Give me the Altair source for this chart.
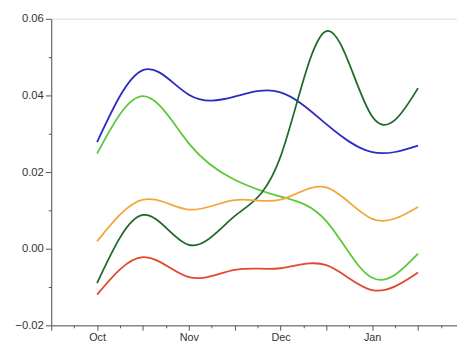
import altair as alt
import pandas as pd

# half-month positions: 0=Oct, 2=Nov, 4=Dec, 6=Jan
positions = [0, 1, 2, 3, 4, 5, 6, 7]

blue = [0.0278, 0.0466, 0.0402, 0.0397, 0.0408, 0.0325, 0.0252, 0.0269]
light_green = [0.0248, 0.0398, 0.0275, 0.0180, 0.0136, 0.0072, -0.0076, -0.0013]
dark_green = [-0.0090, 0.0088, 0.0010, 0.0085, 0.0240, 0.0568, 0.0345, 0.0419]
orange = [0.0019, 0.0128, 0.0102, 0.0127, 0.0128, 0.0160, 0.0078, 0.0109]
red = [-0.0120, -0.0022, -0.0074, -0.0055, -0.0051, -0.0043, -0.0108, -0.0062]

series_names = ["blue", "light_green", "dark_green", "orange", "red"]
series_values = [blue, light_green, dark_green, orange, red]
series_colors = ["#2b2bbf", "#5cc83a", "#1e6a26", "#f0a83a", "#e0492e"]

month_labels = ["Oct", "Nov", "Dec", "Jan"]
month_positions = [0, 2, 4, 6]
x_tick_values = [i * 0.5 for i in range(-2, 16)]
y_tick_values = [round(-0.02 + 0.01 * i, 2) for i in range(9)]

rows = []
for name, vals in zip(series_names, series_values):
    for p, v in zip(positions, vals):
        rows.append({"t": p, "v": v, "s": name})
df = pd.DataFrame(rows)

label_expr = ""
for p, m in zip(month_positions, month_labels):
    label_expr += f"datum.value == {p} ? '{m}' : "
label_expr += "''"

x_axis = alt.Axis(
    values=x_tick_values,
    labelExpr=label_expr,
    title=None,
    grid=False,
    domainColor="#555555",
    tickColor="#555555",
    tickSize={"condition": {"test": "datum.value % 1 == 0", "value": 5}, "value": 2.5},
    labelFont="Liberation Sans",
    labelFontSize=11,
    labelColor="#333333",
    labelPadding=1,
    labelFlush=False,
    labelOverlap=False,
)

y_axis = alt.Axis(
    values=y_tick_values,
    labelExpr="round(datum.value * 100) % 2 == 0 ? format(datum.value, '.2f') : ''",
    title=None,
    grid=False,
    domainColor="#555555",
    tickColor="#555555",
    tickSize={"condition": {"test": "round(datum.value * 100) % 2 == 0", "value": 6}, "value": 3},
    labelFont="Liberation Sans",
    labelFontSize=11.5,
    labelColor="#333333",
    labelPadding=2,
    labelFlush=False,
    labelOverlap=False,
)

chart = (
    alt.Chart(df)
    .mark_line(interpolate="natural", strokeWidth=1.8)
    .encode(
        x=alt.X("t:Q", scale=alt.Scale(domain=[-1, 7.85], nice=False, zero=False), axis=x_axis),
        y=alt.Y("v:Q", scale=alt.Scale(domain=[-0.02, 0.06], nice=False, zero=False), axis=y_axis),
        color=alt.Color("s:N", scale=alt.Scale(domain=series_names, range=series_colors), legend=None),
        detail="s:N",
    )
    .properties(
        width=413,
        height=312,
        padding={"left": 44, "top": 8, "right": 0, "bottom": 16},
        autosize=alt.AutoSizeParams(type="none"),
    )
    .configure_view(stroke=None)
    .configure(background="white")
)

chart.save("out.html", embed_options={"renderer": "svg", "actions": False})
